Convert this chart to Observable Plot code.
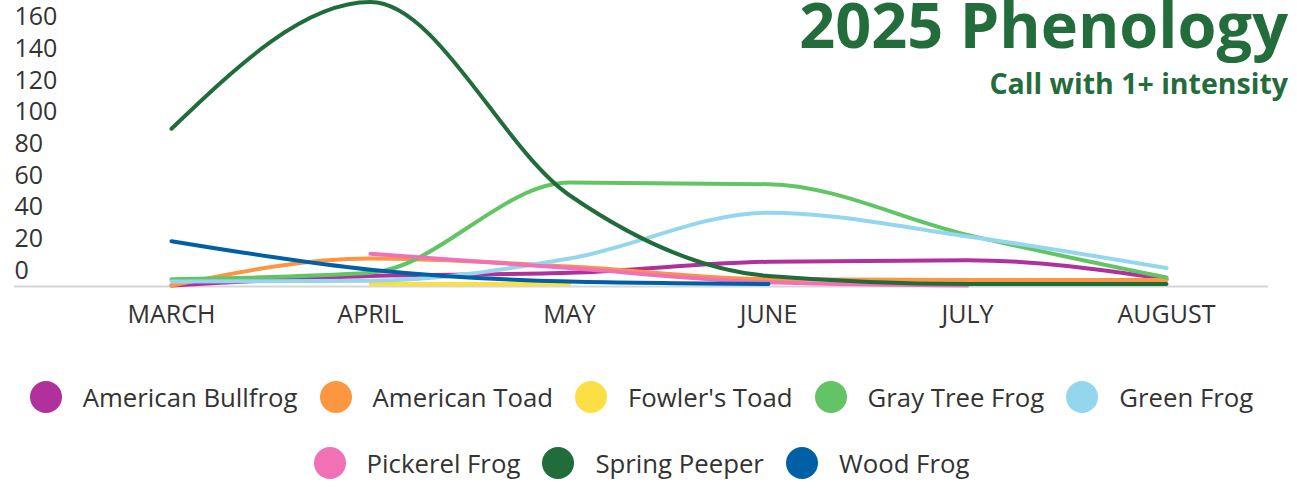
<!DOCTYPE html>
<html>
<head>
<meta charset="utf-8">
<script src="https://cdn.jsdelivr.net/npm/d3@7"></script>
<script src="https://cdn.jsdelivr.net/npm/@observablehq/plot@0.6"></script>
<style>
  html, body { margin: 0; padding: 0; background: #fff; }
  #wrap { position: relative; width: 1297px; height: 496px; overflow: hidden; font-family: "Open Sans", sans-serif; }
  #title { position: absolute; right: 9px; top: 1px; font-size: 63px; line-height: 45px; font-weight: 700; color: #236c3b; white-space: nowrap; }
  #subtitle { position: absolute; right: 9px; top: 73px; font-size: 28.5px; line-height: 20px; font-weight: 700; color: #236c3b; white-space: nowrap; }
  #legend { position: absolute; left: 0; top: 381px; width: 1283px; }
  .row { display: flex; justify-content: center; align-items: center; height: 32px; margin-bottom: 34px; }
  .item { display: flex; align-items: center; margin-right: 22px; }
  .item:last-child { margin-right: 0; }
  .sw { width: 32px; height: 32px; border-radius: 50%; margin-right: 21px; }
  .lbl { font-size: 25.75px; color: #333; white-space: nowrap; }
</style>
</head>
<body>
<div id="wrap">
  <div id="chart"></div>
  <div id="title"></div>
  <div id="subtitle"></div>
  <div id="legend"></div>
</div>
<script>
const titleText = "2025 Phenology";
const subtitleText = "Call with 1+ intensity";
const months = ["MARCH", "APRIL", "MAY", "JUNE", "JULY", "AUGUST"];
const species = ["American Bullfrog", "American Toad", "Fowler's Toad", "Gray Tree Frog", "Green Frog", "Pickerel Frog", "Spring Peeper", "Wood Frog"];
const colors = ["#b0309c", "#fd9641", "#fce043", "#62c465", "#95d6ef", "#f071b6", "#216c3b", "#0060a6"];
const yTicks = [0, 20, 40, 60, 80, 100, 120, 140, 160];

// values per month (March..August); null = no line
const americanBullfrog = [0, 6, 8, 15, 16, 4];
const americanToad     = [0, 17, 12, 4, 3.5, 3.5];
const fowlersToad      = [null, 1, 1, null, null, null];
const grayTreeFrog     = [4, 8, 65, 64, 32, 5];
const greenFrog        = [2.5, 3, 17, 46, 31, 11];
const pickerelFrog     = [null, 20, 11, 2, 0, null];
const springPeeper     = [99, 179, 57, 6, 1, 1];
const woodFrog         = [28, 10, 2.5, 1, null, null];

const seriesValues = [americanBullfrog, americanToad, fowlersToad, grayTreeFrog, greenFrog, pickerelFrog, springPeeper, woodFrog];

const rows = [];
species.forEach((s, i) => {
  seriesValues[i].forEach((v, j) => {
    if (v !== null) rows.push({species: s, month: months[j], value: v});
  });
});

const chart = Plot.plot({
  width: 1297,
  height: 340,
  marginLeft: 14,
  marginRight: 29,
  marginTop: 0,
  marginBottom: 55,
  style: {fontFamily: "Open Sans", color: "#333", background: "transparent"},
  x: {type: "point", domain: months, padding: 0, insetLeft: 155.5, insetRight: 100.5},
  y: {domain: [0, 180]},
  color: {domain: species, range: colors},
  marks: [
    Plot.ruleY([0], {stroke: "#d6d6d6", strokeWidth: 2, dy: 1}),
    Plot.axisY(yTicks, {anchor: "left", tickSize: 0, tickPadding: 0, textAnchor: "start", dy: -15, fontSize: 25, fill: "#333", label: null}),
    Plot.axisX({tickSize: 0, tickPadding: 20, fontSize: 25, fill: "#333", label: null}),
    Plot.line(rows, {x: "month", y: "value", z: "species", stroke: "species", strokeWidth: 4, curve: "monotone-x"})
  ]
});
document.getElementById("chart").appendChild(chart);
document.getElementById("title").textContent = titleText;
document.getElementById("subtitle").textContent = subtitleText;

const legend = document.getElementById("legend");
[[0, 5], [5, 8]].forEach(([a, b]) => {
  const row = document.createElement("div");
  row.className = "row";
  for (let i = a; i < b; i++) {
    const item = document.createElement("div");
    item.className = "item";
    const sw = document.createElement("div");
    sw.className = "sw";
    sw.style.background = colors[i];
    const lbl = document.createElement("span");
    lbl.className = "lbl";
    lbl.textContent = species[i];
    item.appendChild(sw);
    item.appendChild(lbl);
    row.appendChild(item);
  }
  legend.appendChild(row);
});
</script>
</body>
</html>
